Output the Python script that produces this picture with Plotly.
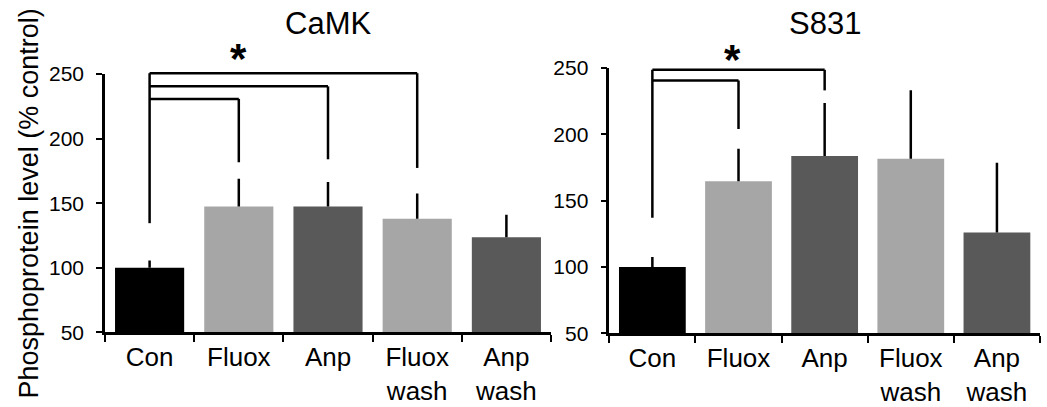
import plotly.graph_objects as go

categories = ["Con", "Fluox", "Anp", "Fluox<br>wash", "Anp<br>wash"]
bar_colors = ["#000000", "#a6a6a6", "#595959", "#a6a6a6", "#595959"]

camk_values = [100, 147.5, 147.5, 138, 123.5]
camk_err_top = [105.5, 169, 166.5, 157.5, 141]
s831_values = [100, 164.5, 183.5, 181.5, 126]
s831_err_top = [107.5, 189, 223.5, 233, 178.5]

# significance brackets: (target index, bracket level, lower end of target leg)
camk_base = 134.5
camk_brackets = [(1, 230.8, 181.7), (2, 240.5, 184), (3, 250.7, 177.3)]
camk_star = (1, 264)
s831_base = 137
s831_brackets = [(1, 240.5, 204), (2, 248.5, 233)]
s831_star = (0.93, 258)

y_ticks = [50, 100, 150, 200, 250]
y_range = [50, 250]

FONT = "Liberation Sans, Arial, sans-serif"
W, H = 1047, 407

fig = go.Figure()


def add_panel(values, err_top, xa, ya):
    fig.add_trace(go.Bar(
        x=categories, y=[v - y_range[0] for v in values], base=y_range[0],
        marker=dict(color=bar_colors, line=dict(width=0)),
        error_y=dict(type="data", symmetric=False,
                     array=[e - v for e, v in zip(err_top, values)],
                     arrayminus=[0] * len(values),
                     width=0, thickness=2.5, color="#000000"),
        xaxis=xa, yaxis=ya, showlegend=False, hoverinfo="skip"))


add_panel(camk_values, camk_err_top, "x", "y")
add_panel(s831_values, s831_err_top, "x2", "y2")

shapes = []
annotations = []


def dom(v):
    return (v - y_range[0]) / (y_range[1] - y_range[0])


def add_brackets(base, brackets, star, xref, yref, title):
    top = max(b[1] for b in brackets)
    line = dict(color="#000000", width=2.5)
    shapes.append(dict(type="line", xref=xref, yref=yref + " domain",
                       x0=0, x1=0, y0=dom(base), y1=dom(top), line=line))
    for tgt, lvl, end in brackets:
        shapes.append(dict(type="line", xref=xref, yref=yref + " domain",
                           x0=0, x1=tgt, y0=dom(lvl), y1=dom(lvl), line=line))
        shapes.append(dict(type="line", xref=xref, yref=yref + " domain",
                           x0=tgt, x1=tgt, y0=dom(lvl), y1=dom(end), line=line))
    annotations.append(dict(text="<b>*</b>", x=star[0], y=dom(star[1]), xref=xref,
                            yref=yref + " domain",
                            showarrow=False, xanchor="center", yanchor="middle",
                            yshift=-2,
                            font=dict(family=FONT, size=42, color="#000000")))
    annotations.append(dict(text=title, x=0.5, y=1.0, xref=xref + " domain",
                            yref="paper", yanchor="top", xanchor="center",
                            showarrow=False, yshift=8,
                            font=dict(family=FONT, size=31, color="#000000")))


add_brackets(camk_base, camk_brackets, camk_star, "x", "y", "CaMK")
add_brackets(s831_base, s831_brackets, s831_star, "x2", "y2", "S831")

annotations.append(dict(text="Phosphoprotein level (% control)", textangle=-90,
                        x=28 / W, y=0.5, xref="paper", yref="paper",
                        xanchor="center", yanchor="middle", showarrow=False,
                        font=dict(family=FONT, size=27, color="#000000")))

xaxis_common = dict(type="category", showline=True, linecolor="#000000", linewidth=2.5,
                    ticks="outside", ticklen=7, tickwidth=2, tickcolor="#000000",
                    tickson="boundaries", showgrid=False, zeroline=False,
                    tickfont=dict(family=FONT, size=26, color="#000000"),
                    range=[-0.5, 4.5])
yaxis_common = dict(showline=True, linecolor="#000000", linewidth=2.5,
                    ticks="outside", ticklen=6, tickwidth=2, tickcolor="#000000",
                    tickvals=y_ticks, range=y_range, showgrid=False, zeroline=False,
                    tickfont=dict(family=FONT, size=21, color="#000000"),
                    ticklabelstandoff=8)

fig.update_layout(
    width=W, height=H,
    margin=dict(l=0, r=0, t=0, b=0),
    paper_bgcolor="#ffffff", plot_bgcolor="#ffffff",
    bargap=0.225,
    xaxis=dict(domain=[105 / W, 551 / W], anchor="y", **xaxis_common),
    yaxis=dict(domain=[(H - 340.3) / H, (H - 66) / H], anchor="x", **yaxis_common),
    xaxis2=dict(domain=[609.3 / W, 1040 / W], anchor="y2", **xaxis_common),
    yaxis2=dict(domain=[(H - 341.5) / H, (H - 59.3) / H], anchor="x2", **yaxis_common),
    shapes=shapes,
    annotations=annotations,
)

fig.write_html("out.html")
